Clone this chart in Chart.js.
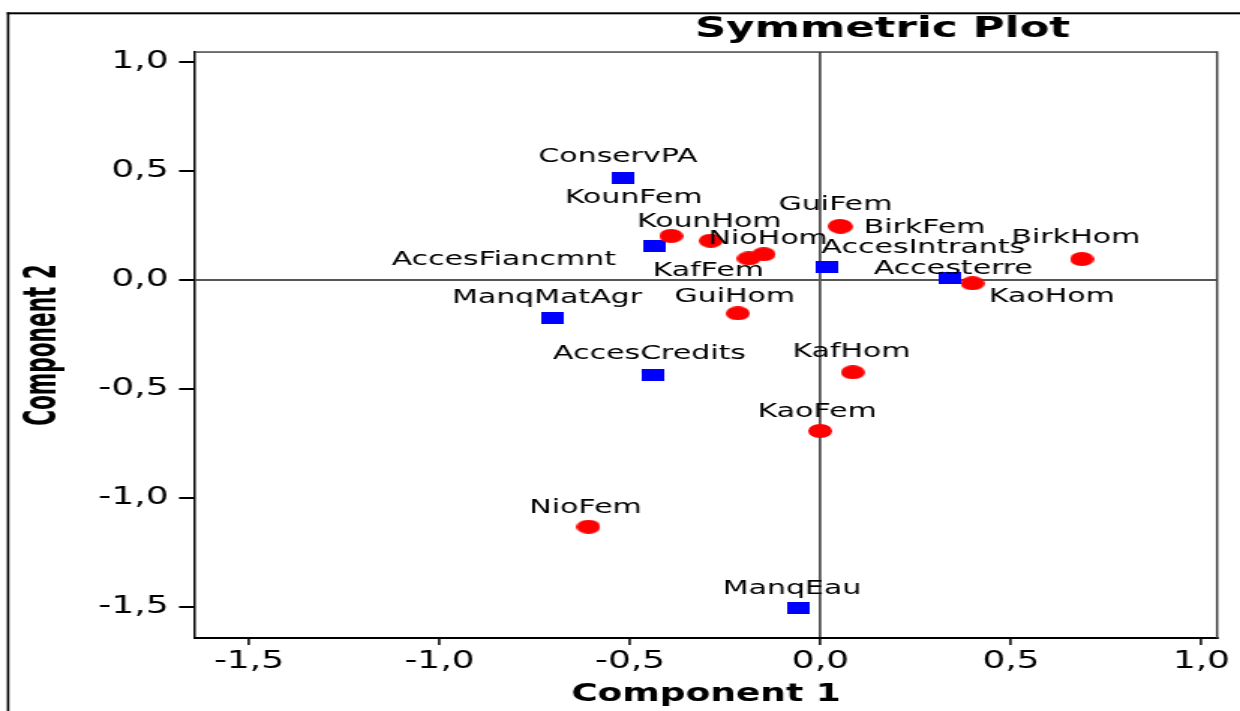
<!DOCTYPE html>
<html>
<head>
<meta charset="utf-8">
<script src="https://cdn.jsdelivr.net/npm/chart.js@4/dist/chart.umd.min.js"></script>
<style>
html, body { margin: 0; padding: 0; background: #fff; }
</style>
</head>
<body>
<!-- the original picture is stretched sideways, so the canvas is drawn narrow and widened by css -->
<canvas id="plot" width="827" height="711" style="display:block;width:1240px;height:711px"></canvas>
<script>
// lignes (points rouges)
const rowNames = ['KounFem', 'KounHom', 'NioHom', 'KafFem', 'GuiFem', 'BirkFem',
                  'BirkHom', 'KaoHom', 'GuiHom', 'KafHom', 'KaoFem', 'NioFem'];
const rowX = [-0.392, -0.288, -0.149, -0.188, 0.051, 0.053, 0.686, 0.399, -0.217, 0.085, -0.001, -0.609];
const rowY = [0.202, 0.180, 0.118, 0.099, 0.247, 0.245, 0.096, -0.015, -0.153, -0.423, -0.692, -1.131];

// colonnes (carrés bleus)
const colNames = ['ConservPA', 'AccesFiancmnt', 'AccesIntrants', 'Accesterre', 'ManqMatAgr', 'AccesCredits', 'ManqEau'];
const colX = [-0.520, -0.434, 0.018, 0.341, -0.702, -0.441, -0.059];
const colY = [0.468, 0.156, 0.061, 0.008, -0.176, -0.435, -1.505];

const axisTicks = [-1.5, -1.0, -0.5, 0.0, 0.5, 1.0];

// where each label sits relative to its marker (canvas px)
const rowLabelOffsets = [[-25, -38], [-1, -19], [3, -15], [-27, 12], [-3, -21], [56, 1],
                         [-4, -21], [53, 14], [-2, -17], [-1, -20], [-2, -19], [-2, -19]];
const colLabelOffsets = [[-3, -21], [-101, 14], [64, -19], [2, -9], [-4, -21], [-2, -21], [-4, -20]];

const font = '"DejaVu Sans", Verdana, sans-serif';

function marker(w, h, color, round) {
    const cv = document.createElement('canvas');
    cv.width = w; cv.height = h;
    const c = cv.getContext('2d');
    c.fillStyle = color;
    if (round) {
        c.beginPath();
        c.ellipse(w / 2, h / 2, w / 2, h / 2, 0, 0, Math.PI * 2);
        c.fill();
    } else {
        c.fillRect(0, 0, w, h);
    }
    return cv;
}

const fmt = v => Number(v).toFixed(1).replace('.', ',');

const decor = {
    id: 'decor',
    beforeDraw(chart) {
        const c = chart.ctx;
        c.save();
        c.fillStyle = '#fff';
        c.fillRect(0, 0, chart.width, chart.height);
        c.fillStyle = '#000';
        c.fillRect(4.6, 12.3, 1.6, chart.height);
        c.fillRect(4.6, 12.3, chart.width, 2);
        c.restore();
    },
    beforeDatasetsDraw(chart) {
        const c = chart.ctx, a = chart.chartArea;
        c.save();
        c.fillStyle = '#444';
        c.fillRect(a.left, a.top - 0.7, a.right - a.left, 1.5);
        c.fillRect(a.right - 0.75, a.top - 0.7, 1.5, a.bottom - a.top + 0.7);
        c.restore();
    },
    afterDatasetsDraw(chart) {
        const c = chart.ctx, a = chart.chartArea;
        c.save();
        c.fillStyle = '#000';
        c.textAlign = 'center';
        c.textBaseline = 'middle';
        c.font = '20px ' + font;
        chart.data.datasets.forEach((ds, di) => {
            const meta = chart.getDatasetMeta(di);
            meta.data.forEach((pt, i) => {
                const off = ds.labelOffsets[i];
                c.fillText(ds.names[i], pt.x + off[0], pt.y + off[1]);
            });
        });
        c.font = 'bold 29px ' + font;
        c.fillText('Symmetric Plot', 588.6, 29.3);

        // titre vertical, un peu épaissi comme dans l'original
        c.translate(29, (a.top + a.bottom) / 2);
        c.rotate(-Math.PI / 2);
        c.scale(1, 1.26);
        c.font = 'bold 24px "DejaVu Sans Condensed", "DejaVu Sans", sans-serif';
        c.fillText('Component 2', 0, 0);
        c.restore();
    }
};

const gridColor = ctx => (ctx.tick && ctx.tick.value === 0) ? '#555' : 'rgba(0,0,0,0)';

new Chart(document.getElementById('plot'), {
    type: 'scatter',
    data: {
        datasets: [
            {
                label: 'Lignes',
                data: rowX.map((x, i) => ({x: x, y: rowY[i]})),
                names: rowNames,
                labelOffsets: rowLabelOffsets,
                pointStyle: marker(16, 14, '#ff0000', true),
                pointRadius: 8,
                backgroundColor: '#ff0000'
            },
            {
                label: 'Colonnes',
                data: colX.map((x, i) => ({x: x, y: colY[i]})),
                names: colNames,
                labelOffsets: colLabelOffsets,
                pointStyle: marker(15, 12, '#0000ff', false),
                pointRadius: 8,
                backgroundColor: '#0000ff'
            }
        ]
    },
    options: {
        responsive: false,
        animation: false,
        devicePixelRatio: 1,
        layout: { padding: { left: 0, top: 52, right: 15.3, bottom: 0 } },
        plugins: {
            legend: { display: false },
            tooltip: { enabled: false }
        },
        scales: {
            x: {
                type: 'linear',
                min: -1.642,
                max: 1.041,
                afterBuildTicks: s => { s.ticks = axisTicks.map(v => ({value: v})); },
                afterFit: s => { s.height = 73; },
                ticks: {
                    font: { family: font, size: 24 },
                    color: '#000',
                    padding: 2,
                    maxRotation: 0,
                    autoSkip: false,
                    callback: fmt
                },
                grid: { color: gridColor, lineWidth: 1.8, tickLength: 7, tickColor: '#000', tickWidth: 1.5 },
                border: { color: '#000', width: 2 },
                title: {
                    display: true,
                    text: 'Component 1',
                    color: '#000',
                    font: { family: font, size: 24, weight: 'bold' },
                    padding: { top: 0, bottom: 2 }
                }
            },
            y: {
                type: 'linear',
                min: -1.641,
                max: 1.045,
                afterBuildTicks: s => { s.ticks = axisTicks.map(v => ({value: v})); },
                afterFit: s => { s.width = 130; },
                ticks: {
                    font: { family: font, size: 24 },
                    color: '#000',
                    padding: 7,
                    autoSkip: false,
                    callback: fmt
                },
                grid: { color: gridColor, lineWidth: 2, tickLength: 10.6, tickColor: '#000', tickWidth: 2 },
                border: { color: '#000', width: 1.5 },
                title: { display: false }
            }
        }
    },
    plugins: [decor]
});
</script>
</body>
</html>
